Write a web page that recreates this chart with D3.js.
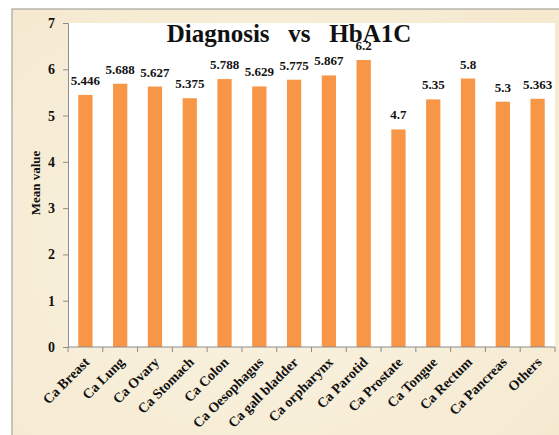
<!DOCTYPE html>
<html>
<head>
<meta charset="utf-8">
<script src="https://cdn.jsdelivr.net/npm/d3@7"></script>
<style>
  html, body { margin: 0; padding: 0; background: #ffffff; }
  svg { display: block; }
  svg text { font-family: "Liberation Serif", "Times New Roman", serif !important; font-weight: bold; fill: #111; }
</style>
</head>
<body>
<svg id="chart" width="559" height="435"></svg>
<script>
// Diagnosis categories and their mean HbA1C values
const categories = ["Ca Breast", "Ca Lung", "Ca Ovary", "Ca Stomach", "Ca Colon", "Ca Oesophagus",
  "Ca gall bladder", "Ca orpharynx", "Ca Parotid", "Ca Prostate", "Ca Tongue", "Ca Rectum",
  "Ca Pancreas", "Others"];
const meanValues = [5.446, 5.688, 5.627, 5.375, 5.788, 5.629, 5.775, 5.867, 6.2, 4.7, 5.35, 5.8, 5.3, 5.363];
const valueLabels = ["5.446", "5.688", "5.627", "5.375", "5.788", "5.629", "5.775", "5.867", "6.2", "4.7", "5.35", "5.8", "5.3", "5.363"];
const yTicks = [0, 1, 2, 3, 4, 5, 6, 7];

const svg = d3.select("#chart");

// parchment-coloured chart frame
const defs = svg.append("defs");
const grad = defs.append("radialGradient").attr("id", "parchment")
  .attr("cx", "45%").attr("cy", "55%").attr("r", "75%");
grad.append("stop").attr("offset", "0%").attr("stop-color", "#faf3e2");
grad.append("stop").attr("offset", "100%").attr("stop-color", "#f5e9cf");

svg.append("rect").attr("x", 12).attr("y", 9).attr("width", 560).attr("height", 440)
  .attr("fill", "url(#parchment)").attr("stroke", "#a8a49c").attr("stroke-width", 1.2);

const plot = { left: 68, right: 555, top: 23, bottom: 347 };

svg.append("rect")
  .attr("x", plot.left).attr("y", plot.top)
  .attr("width", plot.right - plot.left).attr("height", plot.bottom - plot.top)
  .attr("fill", "#ffffff");

const x = d3.scaleBand().domain(categories).range([plot.left, plot.right]).paddingInner(0).paddingOuter(0);
const y = d3.scaleLinear().domain([0, 7]).range([plot.bottom, plot.top]);

const barW = x.bandwidth() * 0.41;

// bars
svg.append("g").selectAll("rect").data(meanValues).join("rect")
  .attr("x", (d, i) => x(categories[i]) + x.bandwidth() / 2 - barW / 2)
  .attr("y", d => y(d))
  .attr("width", barW)
  .attr("height", d => y(0) - y(d))
  .attr("fill", "#f79646");

// y axis
const yAxis = svg.append("g").attr("transform", `translate(${plot.left},0)`)
  .call(d3.axisLeft(y).tickValues(yTicks).tickFormat(d3.format("d")).tickSize(5).tickPadding(8));
yAxis.attr("font-family", null).attr("font-size", null);
yAxis.selectAll("path, line").attr("stroke", "#8c8c8c");
yAxis.selectAll("text").attr("font-size", 14).attr("fill", "#111");

// x axis with ticks at category boundaries
const xAxis = svg.append("g").attr("transform", `translate(0,${plot.bottom})`);
xAxis.append("line").attr("x1", plot.left).attr("x2", plot.right)
  .attr("stroke", "#8c8c8c");
xAxis.selectAll("line.tick").data(categories.concat([null])).join("line")
  .attr("class", "tick")
  .attr("x1", (d, i) => i < categories.length ? x(d) : plot.right)
  .attr("x2", (d, i) => i < categories.length ? x(d) : plot.right)
  .attr("y1", 0).attr("y2", 5).attr("stroke", "#8c8c8c");
xAxis.selectAll("text").data(categories).join("text")
  .attr("transform", d => `translate(${x(d) + x.bandwidth() / 2 + 5},${16}) rotate(-45)`)
  .attr("text-anchor", "end")
  .attr("font-size", 14)
  .text(d => d);

// value labels
svg.append("g").selectAll("text").data(meanValues).join("text")
  .attr("x", (d, i) => x(categories[i]) + x.bandwidth() / 2)
  .attr("y", d => y(d) - 10)
  .attr("text-anchor", "middle")
  .attr("font-size", 13)
  .text((d, i) => valueLabels[i]);

// y axis title
svg.append("text")
  .attr("transform", `translate(40,${(plot.top + plot.bottom) / 2 - 2}) rotate(-90)`)
  .attr("text-anchor", "middle")
  .attr("font-size", 13)
  .text("Mean value");

// chart title
svg.append("text")
  .attr("x", 289).attr("y", 42)
  .attr("text-anchor", "middle")
  .attr("font-size", 25)
  .style("white-space", "pre")
  .text("Diagnosis   vs   HbA1C");
</script>
</body>
</html>
